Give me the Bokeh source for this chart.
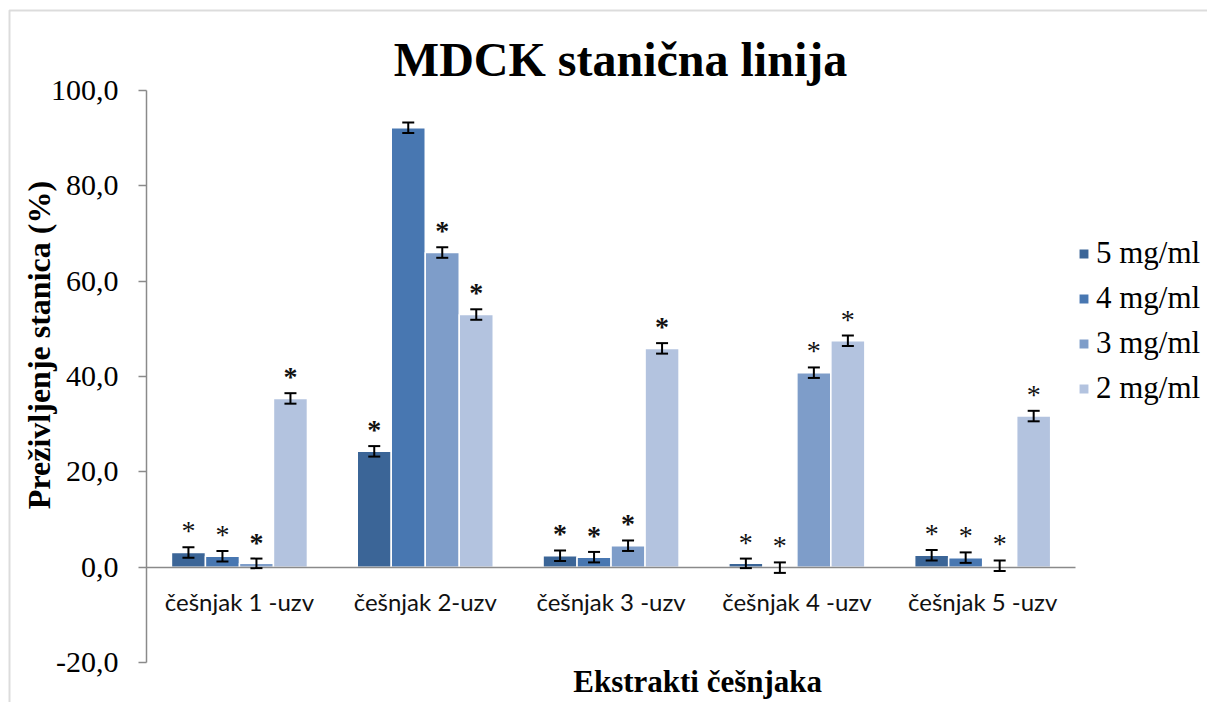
from bokeh.plotting import figure
from bokeh.models import (Range1d, FixedTicker, Whisker, TeeHead, BoxAnnotation,
                          ColumnDataSource, Legend, LegendItem, Label)
from bokeh.core.properties import value
from bokeh.embed import file_html
from bokeh.resources import INLINE

# ---------------- data ----------------
categories = ["češnjak 1 -uzv", "češnjak 2-uzv", "češnjak 3 -uzv", "češnjak 4 -uzv", "češnjak 5 -uzv"]
series_names = ["5 mg/ml", "4 mg/ml", "3 mg/ml", "2 mg/ml"]

vals_5 = [3.1, 24.3, 2.4, 0.8, 2.5]
vals_4 = [2.3, 92.2, 2.1, -0.1, 2.0]
vals_3 = [0.8, 66.0, 4.5, 40.8, 0.3]
vals_2 = [35.4, 53.0, 45.9, 47.5, 31.7]

err_5 = [1.1, 1.1, 1.1, 1.0, 1.1]
err_4 = [1.1, 1.1, 1.1, 1.1, 1.1]
err_3 = [1.0, 1.1, 1.1, 1.1, 1.1]
err_2 = [1.1, 1.1, 1.1, 1.1, 1.1]

# significance marks: "n" = regular asterisk, "b" = bold asterisk, "" = none
sig_5 = ["n", "b", "b", "n", "n"]
sig_4 = ["n", "", "b", "n", "n"]
sig_3 = ["b", "b", "b", "n", "n"]
sig_2 = ["b", "b", "b", "n", "n"]

y_ticks = [-20, 0, 20, 40, 60, 80, 100]
y_tick_labels = ["-20,0", "0,0", "20,0", "40,0", "60,0", "80,0", "100,0"]

title_text = "MDCK stanična linija"
x_title = "Ekstrakti češnjaka"
y_title = "Preživljenje stanica (%)"

colors = ["#3b6597", "#4877b1", "#7e9dc9", "#b3c3df"]

# ---------------- figure ----------------
# the frame fills the whole canvas; categories sit at 0.5, 1.5, ... on the x scale
p = figure(x_range=Range1d(-0.786, 5.710), y_range=Range1d(-28.39, 118.88),
           width=1207, height=702,
           output_backend="svg", toolbar_location=None,
           min_border_left=0, min_border_right=0, min_border_top=0, min_border_bottom=0)
p.outline_line_color = None
p.xgrid.visible = False
p.ygrid.visible = False
p.background_fill_color = "white"
p.border_fill_color = "white"

# outer chart border (left and top edges visible)
p.add_layout(BoxAnnotation(left=9, right=1240, top=692, bottom=-40,
                           left_units="screen", right_units="screen",
                           top_units="screen", bottom_units="screen",
                           fill_alpha=0, line_color="#8c8c8c", line_width=2, level="underlay"))

# y axis
p.yaxis.fixed_location = 0
p.yaxis.bounds = (-20, 100)
p.yaxis.ticker = FixedTicker(ticks=y_ticks)
p.yaxis.major_label_overrides = {t: l for t, l in zip(y_ticks, y_tick_labels)}
p.yaxis.axis_line_color = "#8a8a8a"
p.yaxis.axis_line_width = 1.5
p.yaxis.major_tick_line_color = "#8a8a8a"
p.yaxis.major_tick_line_width = 1.5
p.yaxis.major_tick_out = 8
p.yaxis.major_tick_in = 0
p.yaxis.minor_tick_line_color = None
p.yaxis.major_label_text_font = "Liberation Serif"
p.yaxis.major_label_text_font_size = "30px"
p.yaxis.major_label_text_color = "black"
p.yaxis.major_label_standoff = 20

# x axis at y = 0
cat_pos = [i + 0.5 for i in range(len(categories))]
p.xaxis.fixed_location = 0
p.xaxis.bounds = (0, len(categories))
p.xaxis.ticker = FixedTicker(ticks=cat_pos)
p.xaxis.major_label_overrides = {x: c for x, c in zip(cat_pos, categories)}
p.xaxis.axis_line_color = "#8a8a8a"
p.xaxis.axis_line_width = 1.5
p.xaxis.major_tick_line_color = None
p.xaxis.minor_tick_line_color = None
p.xaxis.major_label_text_font = "Lato"
p.xaxis.major_label_text_font_size = "24px"
p.xaxis.major_label_text_color = "#111111"
p.xaxis.major_label_standoff = 14

# ---------------- bars ----------------
all_vals = [vals_5, vals_4, vals_3, vals_2]
all_errs = [err_5, err_4, err_3, err_2]
all_sigs = [sig_5, sig_4, sig_3, sig_2]
offsets = [-0.2745, -0.0915, 0.0915, 0.2745]
bar_w = 0.183

renderers = []
for name, vals, errs, sigs, col, off in zip(series_names, all_vals, all_errs, all_sigs, colors, offsets):
    xs = [c + off for c in cat_pos]
    src = ColumnDataSource(dict(
        x=xs, val=vals,
        upper=[v + e for v, e in zip(vals, errs)],
        lower=[v - e for v, e in zip(vals, errs)]))
    r = p.vbar(x="x", top="val", bottom=0, width=bar_w,
               source=src, fill_color=col, line_color="white", line_width=1.5)
    renderers.append(r)
    w = Whisker(base="x", upper="upper", lower="lower", source=src, level="annotation",
                line_color="black", line_width=2,
                upper_head=TeeHead(size=12, line_color="black", line_width=2),
                lower_head=TeeHead(size=12, line_color="black", line_width=2))
    p.add_layout(w)
    for style in ("normal", "bold"):
        key = "n" if style == "normal" else "b"
        xs_s = [x for x, s in zip(xs, sigs) if s == key]
        ys = [v + e for v, e, s in zip(vals, errs, sigs) if s == key]
        if xs_s:
            ssrc = ColumnDataSource(dict(x=xs_s, y=ys, t=["*"] * len(xs_s)))
            p.text(x="x", y="y", text="t", source=ssrc,
                   text_align="center", text_baseline="bottom", y_offset=-1,
                   text_font=value("Liberation Serif"), text_font_size="28px",
                   text_font_style=style, text_color="#111111")

# ---------------- legend ----------------
legend = Legend(items=[LegendItem(label=n, renderers=[r]) for n, r in zip(series_names, renderers)],
                location=(1077, 296), orientation="vertical",
                glyph_width=13, glyph_height=13, label_standoff=6,
                label_text_font="Liberation Serif", label_text_font_size="31px",
                label_text_color="black", label_height=34, spacing=9,
                padding=0, margin=0, border_line_color=None,
                background_fill_alpha=0)
p.add_layout(legend)

# ---------------- titles ----------------
p.add_layout(Label(x=2.551, y=106.4, text=title_text, text_align="center", text_baseline="middle",
                   text_font="Liberation Serif", text_font_size="48px", text_font_style="bold",
                   text_color="black"))
p.add_layout(Label(x=-0.581, y=46.6, text=y_title, angle=1.5707963, text_align="center",
                   text_baseline="middle", text_font="Liberation Serif", text_font_size="32px",
                   text_font_style="bold", text_color="black"))
p.add_layout(Label(x=2.966, y=-24.0, text=x_title, text_align="center", text_baseline="middle",
                   text_font="Liberation Serif", text_font_size="31px", text_font_style="bold",
                   text_color="black"))

open("out.html", "w").write(file_html(p, INLINE))
